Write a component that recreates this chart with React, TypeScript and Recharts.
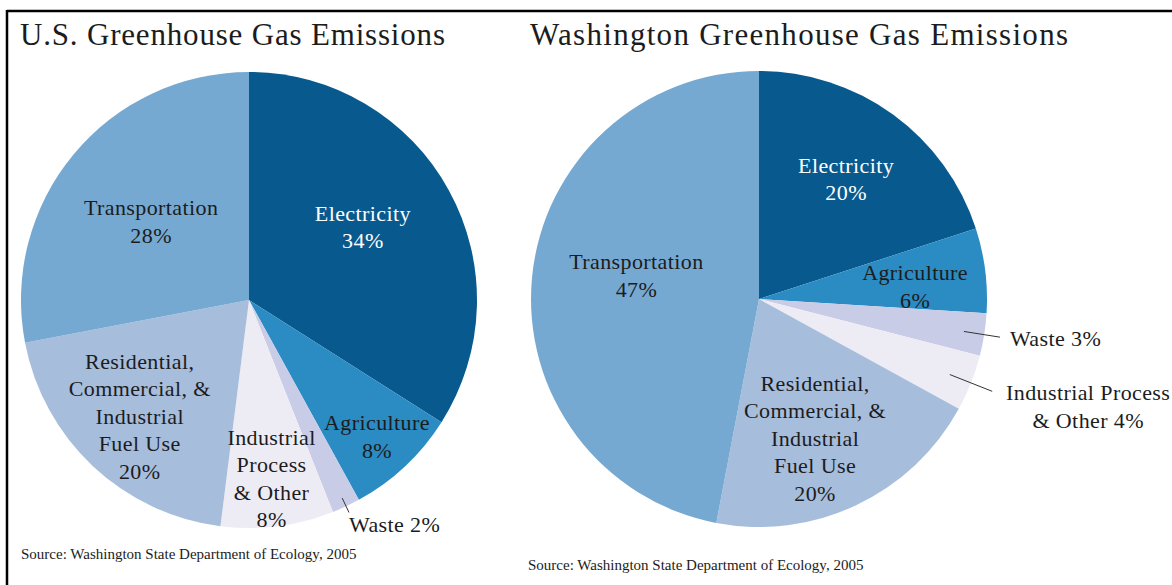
import { PieChart, Pie, Cell } from "recharts";

const sectors = ["Electricity", "Agriculture", "Waste", "Industrial Process & Other", "Residential, Commercial, & Industrial Fuel Use", "Transportation"];
const usShares = [34, 8, 2, 8, 20, 28];
const waShares = [20, 6, 3, 4, 20, 47];
const sliceColors = ["#085a8e", "#2b8bc3", "#c9cce6", "#edecf5", "#a7bddc", "#76a9d2"];

// how each label is broken into lines (value is appended by the renderer)
const usLabelLines = [
  ["Electricity"],
  ["Agriculture"],
  ["Waste"],
  ["Industrial", "Process", "& Other"],
  ["Residential,", "Commercial, &", "Industrial", "Fuel Use"],
  ["Transportation"],
];
const waLabelLines = [
  ["Electricity"],
  ["Agriculture"],
  ["Waste"],
  ["Industrial Process", "& Other"],
  ["Residential,", "Commercial, &", "Industrial", "Fuel Use"],
  ["Transportation"],
];

const usData = sectors.map((name, i) => ({ name, value: usShares[i] }));
const waData = sectors.map((name, i) => ({ name, value: waShares[i] }));

type Spot = {
  r: number;
  inline?: boolean;
  lead?: [number, number];
  dx?: number;
  dy?: number;
  anchor?: "start" | "middle" | "end";
  color?: string;
};

const usSpots: Spot[] = [
  { r: 0.6, dx: -6, dy: -7, color: "#fff" },
  { r: 0.82 },
  { r: 1.03, inline: true, lead: [0.96, 1.03], dx: 0, dy: 12, anchor: "start" },
  { r: 0.79 },
  { r: 0.7 },
  { r: 0.54, dx: -3 },
];
const waSpots: Spot[] = [
  { r: 0.65, color: "#fff" },
  { r: 0.69, dy: 7 },
  { r: 1.07, inline: true, lead: [0.91, 1.07], dx: 10, dy: 1, anchor: "start" },
  { r: 1.1, inline: true, lead: [0.9, 1.1], dx: 96, dy: 15, anchor: "middle" },
  { r: 0.66, dx: -8, dy: 3 },
  { r: 0.54, dy: -12 },
];

const FONT = "'Liberation Serif', 'DejaVu Serif', serif";
const INK = "#1c1c1c";
const LH = 27.5;
const RAD = Math.PI / 180;

function makeLabel(lines: string[][], spots: Spot[]) {
  return (props: any) => {
    const { cx, cy, midAngle, outerRadius, index, value } = props;
    const spot = spots[index];
    const at = (k: number) => [
      cx + outerRadius * k * Math.cos(-midAngle * RAD),
      cy + outerRadius * k * Math.sin(-midAngle * RAD),
    ];
    const base = lines[index];
    const text = spot.inline
      ? [...base.slice(0, -1), `${base[base.length - 1]} ${value}%`]
      : [...base, `${value}%`];
    const [px, py] = at(spot.r);
    const x = px + (spot.dx ?? 0);
    const y = py + (spot.dy ?? 0);
    const n = text.length;
    let lead = null;
    if (spot.lead) {
      const [x1, y1] = at(spot.lead[0]);
      const [x2, y2] = at(spot.lead[1]);
      lead = <line x1={x1} y1={y1} x2={x2} y2={y2} stroke="#333" strokeWidth={1} />;
    }
    return (
      <g>
        {lead}
        {text.map((t, i) => (
          <text
            key={i}
            x={x}
            y={y + (i - (n - 1) / 2) * LH}
            textAnchor={spot.anchor ?? "middle"}
            dominantBaseline="central"
            fill={spot.color ?? INK}
            fontSize={22}
            letterSpacing={0.4}
            fontFamily={FONT}
          >
            {t}
          </text>
        ))}
      </g>
    );
  };
}

export default function App() {
  return (
    <div style={{ position: "absolute", left: 0, top: 0, width: 1172, height: 585, background: "#fff" }}>
      <PieChart width={1172} height={585} margin={{ top: 0, right: 0, bottom: 0, left: 0 }}>
        <line x1={7} y1={11} x2={1172} y2={11} stroke="#000" strokeWidth={2.5} />
        <line x1={7} y1={10} x2={7} y2={585} stroke="#000" strokeWidth={2.5} />
        <text x={20} y={45} fontSize={31} fontFamily={FONT} fill={INK} textLength={425} lengthAdjust="spacing">
          U.S. Greenhouse Gas Emissions
        </text>
        <text x={530} y={45} fontSize={31} fontFamily={FONT} fill={INK} textLength={538} lengthAdjust="spacing">
          Washington Greenhouse Gas Emissions
        </text>
        <Pie
          data={usData}
          dataKey="value"
          nameKey="name"
          cx={249}
          cy={300}
          outerRadius={228}
          startAngle={90}
          endAngle={-270}
          stroke="none"
          label={makeLabel(usLabelLines, usSpots)}
          labelLine={false}
          isAnimationActive={false}
        >
          {usData.map((d, i) => (
            <Cell key={d.name} fill={sliceColors[i]} />
          ))}
        </Pie>
        <Pie
          data={waData}
          dataKey="value"
          nameKey="name"
          cx={759}
          cy={299}
          outerRadius={228}
          startAngle={90}
          endAngle={-270}
          stroke="none"
          label={makeLabel(waLabelLines, waSpots)}
          labelLine={false}
          isAnimationActive={false}
        >
          {waData.map((d, i) => (
            <Cell key={d.name} fill={sliceColors[i]} />
          ))}
        </Pie>
        <text x={21} y={559} fontSize={15} fontFamily={FONT} fill={INK}>
          Source: Washington State Department of Ecology, 2005
        </text>
        <text x={528} y={570} fontSize={15} fontFamily={FONT} fill={INK}>
          Source: Washington State Department of Ecology, 2005
        </text>
      </PieChart>
    </div>
  );
}
